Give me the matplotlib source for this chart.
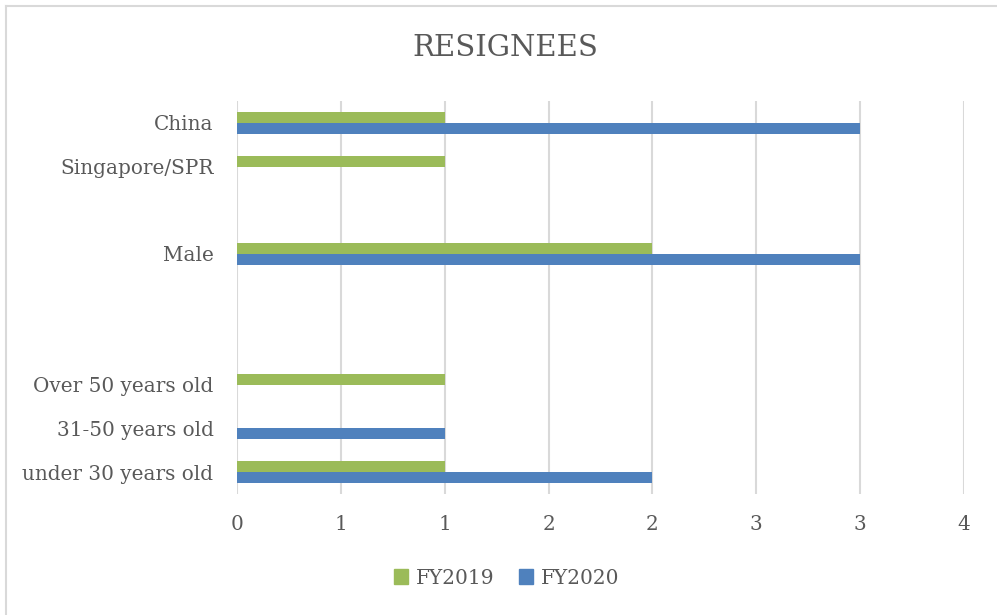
import matplotlib
matplotlib.use('Agg')
import matplotlib.pyplot as plt
from matplotlib.lines import Line2D
from matplotlib.patches import Patch
import numpy as np

categories = ['under 30 years old', '31-50 years old', 'Over 50 years old', '', '',
              'Male', '', 'Singapore/SPR', 'China']
fy2019 = [1, 0, 1, 0, 0, 2, 0, 1, 1]
fy2020 = [2, 1, 0, 0, 0, 3, 0, 0, 3]
series_names = ['FY2019', 'FY2020']
xticks = [0, 0.5, 1, 1.5, 2, 2.5, 3, 3.5]
xticklabels = ['0', '1', '1', '2', '2', '3', '3', '4']
title = 'RESIGNEES'

GREEN = '#9BBB59'
BLUE = '#4F81BD'
TXT = '#595959'
GRID = '#D9D9D9'
FONT = 'DejaVu Serif'

W, H = 997, 615
fig = plt.figure(figsize=(W / 100, H / 100), dpi=100)
ax = fig.add_axes([237 / W, 1 - 494 / H, 727 / W, 393 / H])

y = np.arange(len(categories))
h = 0.25
ax.barh(y + h / 2, fy2019, height=h, color=GREEN, label=series_names[0], zorder=3)
ax.barh(y - h / 2, fy2020, height=h, color=BLUE, label=series_names[1], zorder=3)

ax.set_xlim(0, 3.5)
ax.set_ylim(-0.5, len(categories) - 0.5)
ax.set_xticks(xticks)
ax.set_xticklabels(xticklabels, family=FONT, fontsize=14.4, color=TXT)
ax.set_yticks(y)
ax.set_yticklabels(categories, family=FONT, fontsize=14.4, color=TXT)
ax.tick_params(axis='both', length=0)
ax.tick_params(axis='x', pad=15)
ax.tick_params(axis='y', pad=17)
for s in ax.spines.values():
    s.set_visible(False)
ax.xaxis.grid(True, color=GRID, lw=1.5, zorder=0)
ax.set_axisbelow(True)

fig.text(505 / W, 1 - 48 / H, title, family=FONT, fontsize=21, color=TXT,
         ha='center', va='center')

handles = [Patch(color=GREEN), Patch(color=BLUE)]
fig.legend(handles, series_names, loc='center', bbox_to_anchor=(507 / W, 1 - 578 / H),
           ncol=2, frameon=False, handlelength=0.7, handleheight=0.7,
           handletextpad=0.4, columnspacing=1.2,
           prop={'family': FONT, 'size': 14.5}, labelcolor=TXT)

yb = 1 - 5.5 / H
xb = 5.5 / W
fig.add_artist(Line2D([xb, 1.01], [yb, yb], color=GRID, lw=1.5, transform=fig.transFigure))
fig.add_artist(Line2D([xb, xb], [yb, -0.01], color=GRID, lw=1.5, transform=fig.transFigure))

fig.savefig('out.png', dpi=100, facecolor='white')
